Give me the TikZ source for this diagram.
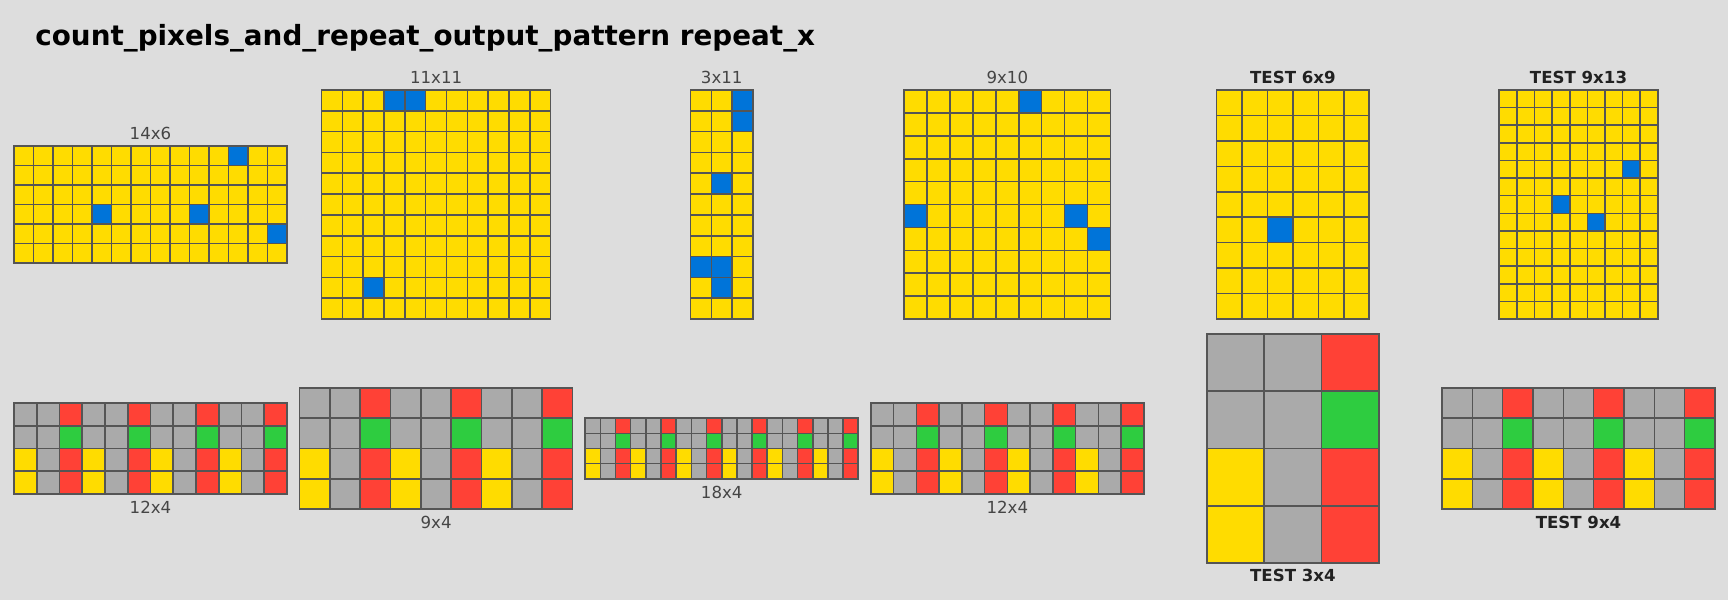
\documentclass[tikz,border=0pt]{standalone}
\usepackage{fontspec}
\setmainfont{DejaVu Sans}
\usepackage{xcolor}
\usepackage{tikz}
\usetikzlibrary{positioning}
\definecolor{bgcol}{HTML}{DDDDDD}
\definecolor{arcyellow}{HTML}{FFDC00}
\definecolor{arcblue}{HTML}{0074D9}
\definecolor{arcred}{HTML}{FF4136}
\definecolor{arcgreen}{HTML}{2ECC40}
\definecolor{arcgray}{HTML}{AAAAAA}
\definecolor{lines}{HTML}{555555}
% input grid: name, centre x, centre y, cell, cols, rows, blue cells col/row
\newcommand{\ingrid}[7]{%
  \pgfmathsetmacro{\gx}{#2-#5*#4/2}
  \pgfmathsetmacro{\gy}{#3-#6*#4/2}
  \begin{scope}[shift={(\gx,\gy)}]
    \foreach \ci in {1,...,#5}
      \foreach \ri in {1,...,#6}
        \filldraw[cellbox,fill=arcyellow] ({(\ci-1)*#4},{(\ri-1)*#4}) rectangle ++(#4,#4);
    \foreach \ci/\ri in {#7}
      \filldraw[cellbox,fill=arcblue] ({\ci*#4},{\ri*#4}) rectangle ++(#4,#4);
  \end{scope}
  \coordinate (#1-n) at (#2,\gy);
  \coordinate (#1-s) at (#2,{\gy+#6*#4});
}
% output grid: name, centre x, centre y, cell, repeats of the 3x4 block
\newcommand{\outgrid}[5]{%
  \pgfmathsetmacro{\gx}{#2-3*#5*#4/2}
  \pgfmathsetmacro{\gy}{#3-2*#4}
  \begin{scope}[shift={(\gx,\gy)}]
    \foreach \k in {1,...,#5}
      \foreach \ri/\ca/\cb/\cc in {0/arcgray/arcgray/arcred,1/arcgray/arcgray/arcgreen,
                                   2/arcyellow/arcgray/arcred,3/arcyellow/arcgray/arcred}{
        \filldraw[cellbox,fill=\ca] ({(3*\k-3)*#4},{\ri*#4}) rectangle ++(#4,#4);
        \filldraw[cellbox,fill=\cb] ({(3*\k-2)*#4},{\ri*#4}) rectangle ++(#4,#4);
        \filldraw[cellbox,fill=\cc] ({(3*\k-1)*#4},{\ri*#4}) rectangle ++(#4,#4);
      }
  \end{scope}
  \coordinate (#1-n) at (#2,\gy);
  \coordinate (#1-s) at (#2,{\gy+4*#4});
}

\begin{document}
\begin{tikzpicture}[
  x=0.5pt,y=-0.5pt,
  cellbox/.style={draw=lines,line width=0.8pt},
  lbl/.style={inner sep=0pt,text=black!73,font=\fontsize{8.3}{10}\selectfont},
  testlbl/.style={lbl,text=black!87,font=\fontsize{8.3}{10}\selectfont\bfseries},
]
\fill[bgcol] (0,0) rectangle (1728,600);
\useasboundingbox (0,0) rectangle (1728,600);

\node[anchor=base west,inner sep=0pt,font=\fontsize{13.9}{16}\selectfont\bfseries]
  (title) at (35,45) {count\_pixels\_and\_repeat\_output\_pattern repeat\_x};

% top row: inputs
\ingrid{in1}{150.5}{204.5}{19.5}{14}{6}{11/0,4/3,9/3,13/4}
\ingrid{in2}{436.1}{204.5}{20.82}{11}{11}{3/0,4/0,2/9}
\ingrid{in3}{721.7}{204.5}{20.82}{3}{11}{2/0,2/1,1/4,0/8,1/8,1/9}
\ingrid{in4}{1007.3}{204.5}{22.9}{9}{10}{5/0,0/5,7/5,8/6}
\ingrid{in5}{1292.9}{204.5}{25.44}{6}{9}{2/5}
\ingrid{in6}{1578.5}{204.5}{17.615}{9}{13}{7/4,3/6,5/7}

% bottom row: outputs
\outgrid{out1}{150.5}{448.5}{22.75}{4}
\outgrid{out2}{436.1}{448.5}{30.33}{3}
\outgrid{out3}{721.7}{448.5}{15.17}{6}
\outgrid{out4}{1007.3}{448.5}{22.75}{4}
\outgrid{out5}{1292.9}{448.5}{57.25}{1}
\outgrid{out6}{1578.5}{448.5}{30.33}{3}

% labels
\node[lbl,above=3pt of in1-n] (lin1) {14x6};
\node[lbl,above=3pt of in2-n] (lin2) {11x11};
\node[lbl,above=3pt of in3-n] (lin3) {3x11};
\node[lbl,above=3pt of in4-n] (lin4) {9x10};
\node[testlbl,above=3pt of in5-n] (lin5) {TEST 6x9};
\node[testlbl,above=3pt of in6-n] (lin6) {TEST 9x13};
\node[lbl,below=3.3pt of out1-s] (lout1) {12x4};
\node[lbl,below=3.3pt of out2-s] (lout2) {9x4};
\node[lbl,below=3.3pt of out3-s] (lout3) {18x4};
\node[lbl,below=3.3pt of out4-s] (lout4) {12x4};
\node[testlbl,below=3pt of out5-s] (lout5) {TEST 3x4};
\node[testlbl,below=3.3pt of out6-s] (lout6) {TEST 9x4};
\end{tikzpicture}
\end{document}
